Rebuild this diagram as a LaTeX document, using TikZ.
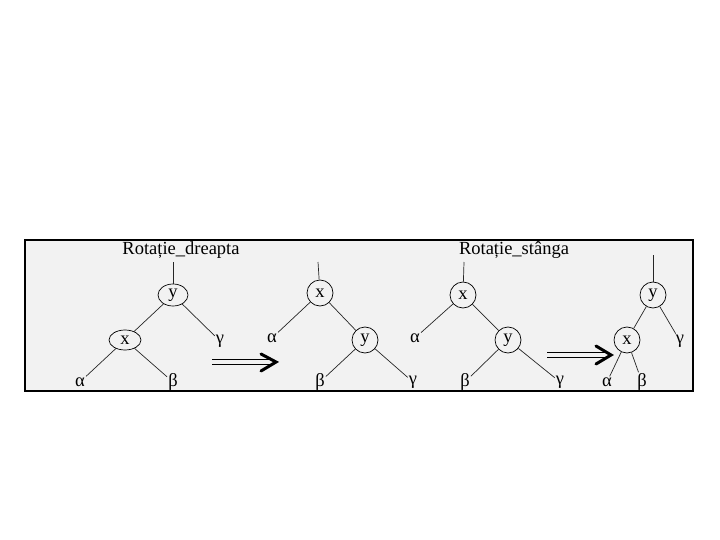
\documentclass[tikz,border=0pt]{standalone}
\usepackage{fontspec}
\setmainfont{Liberation Serif}
\usetikzlibrary{shapes.geometric}
\begin{document}
\begin{tikzpicture}[x=1pt,y=-1pt,
  every node/.style={font=\fontsize{18.5}{20}\selectfont, inner sep=1pt},
  cnode/.style={draw, circle, minimum size=26pt, inner sep=0pt, line width=0.7pt},
  gk/.style={inner sep=1pt},
  edge/.style={line width=0.7pt, black!85},
  shaft/.style={line width=1pt},
  head/.style={line width=3pt, line cap=round, line join=miter}]
\useasboundingbox (0,0) rectangle (720,540);
\fill[white] (0,0) rectangle (720,540);
\draw[line width=1.2pt, fill=black!5] (25,240) rectangle (693,391);

% Tree 1
\node (t1) at (181,250) {Rotație\_dreapta};
\coordinate (r1) at (173,262);
\node[draw, ellipse, minimum width=30pt, minimum height=22pt, inner sep=0pt, line width=0.7pt] (y1) at (173,295) {y};
\node[draw, ellipse, minimum width=32pt, minimum height=20pt, inner sep=0pt, line width=0.7pt] (x1) at (125,340) {x};
\node[gk] (g1) at (220,341) {γ};
\node[gk] (a1) at (80,382) {α};
\node[gk] (b1) at (173,382) {β};
\draw[edge] (r1) -- (y1);
\draw[edge] (y1) -- (x1);
\draw[edge] (y1) -- (g1);
\draw[edge] (x1) -- (a1);
\draw[edge] (x1) -- (b1);

% Arrow 1
\coordinate (s1) at (212,362);
\coordinate (e1) at (270,362);
\coordinate (h1) at (276,362);
\draw[shaft] ([yshift=-2.5pt]s1) -- ([yshift=-2.5pt]e1);
\draw[shaft] ([yshift=2.5pt]s1) -- ([yshift=2.5pt]e1);
\draw[head] (261,354) -- (h1) -- (261,371);

% Tree 2
\coordinate (r2) at (318,262);
\node[cnode] (x2) at (320,293) {x};
\node[cnode] (y2) at (365,340) {y};
\node[gk] (a2) at (272,338) {α};
\node[gk] (b2) at (320,382) {β};
\node[gk] (g2) at (413,382) {γ};
\draw[edge] (r2) -- (x2);
\draw[edge] (x2) -- (a2);
\draw[edge] (x2) -- (y2);
\draw[edge] (y2) -- (b2);
\draw[edge] (y2) -- (g2);

% Tree 3
\node (t3) at (514,250) {Rotație\_stânga};
\coordinate (r3) at (464,262);
\node[cnode] (x3) at (463,295) {x};
\node[cnode] (y3) at (508,340) {y};
\node[gk] (a3) at (415,338) {α};
\node[gk] (b3) at (465,382) {β};
\node[gk] (g3) at (560,382) {γ};
\draw[edge] (r3) -- (x3);
\draw[edge] (x3) -- (a3);
\draw[edge] (x3) -- (y3);
\draw[edge] (y3) -- (b3);
\draw[edge] (y3) -- (g3);

% Arrow 2
\coordinate (s2) at (547,355);
\coordinate (e2) at (605,355);
\coordinate (h2) at (611,355);
\draw[shaft] ([yshift=-2.5pt]s2) -- ([yshift=-2.5pt]e2);
\draw[shaft] ([yshift=2.5pt]s2) -- ([yshift=2.5pt]e2);
\draw[head] (596,346) -- (h2) -- (596,364);

% Tree 4
\coordinate (r4) at (653,255);
\node[cnode] (y4) at (653,295) {y};
\node[cnode] (x4) at (627,340) {x};
\node[gk] (g4) at (680,341) {γ};
\node[gk] (a4) at (607,382) {α};
\node[gk] (b4) at (642,382) {β};
\draw[edge] (r4) -- (y4);
\draw[edge] (y4) -- (x4);
\draw[edge] (y4) -- (g4);
\draw[edge] (x4) -- (a4);
\draw[edge] (x4) -- (b4);
\end{tikzpicture}
\end{document}
